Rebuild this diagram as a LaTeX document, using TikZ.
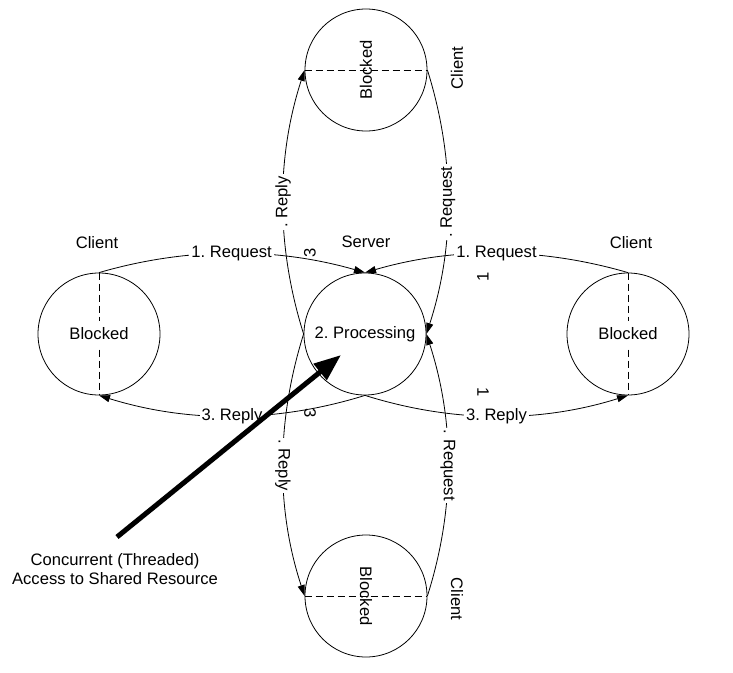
\documentclass[tikz,border=0pt]{standalone}
\usepackage{fontspec}
\setmainfont{Liberation Sans}
\usetikzlibrary{arrows.meta}
\frenchspacing
\begin{document}
\begin{tikzpicture}[x=1pt,y=-1pt,
  font=\fontsize{16.6}{18.5}\selectfont\frenchspacing,
  stn/.style={circle,draw,line width=0.8pt,minimum size=122pt,inner sep=0pt},
  conn/.style={line width=0.8pt,-{Triangle[length=11pt,width=7pt]}},
  lbl/.style={fill=white,inner xsep=2pt,inner ysep=2pt},
  dsh/.style={line width=0.8pt,dash pattern=on 7pt off 4pt},
  txt/.style={inner sep=1pt},
  bigarrow/.style={line width=5pt,-{Triangle[length=27pt,width=20pt]}}
]
\useasboundingbox (0,0) rectangle (733,672);

% circles
\node[stn] (srv) at (365,334) {2. Processing};
\node[stn] (lc) at (99,334) {};
\node[stn] (rc) at (628,334) {};
\node[stn] (tc) at (366,70) {};
\node[stn] (bc) at (366,596) {};

% dashed dividers
\draw[dsh] (lc.north) -- (lc.south);
\draw[dsh] (rc.north) -- (rc.south);
\draw[dsh] (tc.west) -- (tc.east);
\draw[dsh] (bc.west) -- (bc.east);

% blocked texts
\node[txt,fill=white,inner xsep=2pt,inner ysep=7pt] (lct) at (lc) {Blocked};
\node[txt,fill=white,inner xsep=2pt,inner ysep=7pt] (rct) at (rc) {Blocked};
\node[txt,rotate=90] (tct) at (tc) {Blocked};
\node[txt,rotate=-90] (bct) at (bc) {Blocked};

% captions
\node[txt] (lcl) at (97,243) {Client};
\node[txt] (srvl) at (366,242) {Server};
\node[txt] (rcl) at (631,243) {Client};
\node[txt,rotate=90] (tcl) at (457,68) {Client};
\node[txt,rotate=-90] (bcl) at (457,599) {Client};

% horizontal connectors
\draw[conn] (lc.north) .. controls (187,247) and (276,247) .. (srv.north)
  node[lbl,pos=0.5] {1. Request};
\draw[conn] (rc.north) .. controls (540,247) and (453,247) .. (srv.north)
  node[lbl,pos=0.5] {1. Request};
\draw[conn] (srv.south) .. controls (276,423) and (188,423) .. (lc.south)
  node[lbl,pos=0.5] {3. Reply};
\draw[conn] (srv.south) .. controls (453,423) and (540,423) .. (rc.south)
  node[lbl,pos=0.5] {3. Reply};

% vertical connectors
\draw[conn] (srv.west) .. controls (276,246) and (276,158) .. (tc.west)
  node[lbl,pos=0.5,rotate=90] {. Reply};
\draw[conn] (srv.west) .. controls (276,422) and (276,509) .. (bc.west)
  node[lbl,pos=0.5,rotate=-90] {. Reply};
\draw[conn] (tc.east) .. controls (455,158) and (455,246) .. (srv.east)
  node[lbl,pos=0.5,rotate=90] {. Request};
\draw[conn] (bc.east) .. controls (455,509) and (455,422) .. (srv.east)
  node[lbl,pos=0.5,rotate=-90] {. Request};

% stray digits
\node[txt,rotate=90] (d3t) at (310,253) {3};
\node[txt,rotate=-90] (d3b) at (310,413) {3};
\node[txt,rotate=90] (d1t) at (483,277) {1};
\node[txt,rotate=-90] (d1b) at (483,392) {1};

% big arrow and caption
\node[txt,align=center] (cap) at (115,569) {Concurrent (Threaded)\\Access to Shared Resource};
\coordinate (abase) at (117,537);
\coordinate (atip) at (341,355);
\draw[bigarrow] (abase) -- (atip);
\end{tikzpicture}
\end{document}
